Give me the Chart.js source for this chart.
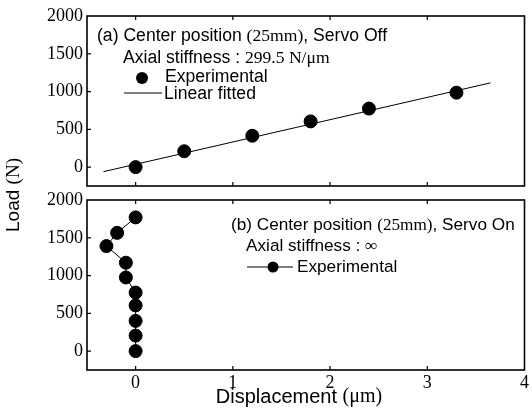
<!DOCTYPE html>
<html><head><meta charset="utf-8">
<script src="https://cdn.jsdelivr.net/npm/chart.js@4/dist/chart.umd.min.js"></script>
<style>
html,body{margin:0;padding:0;background:#fff}
#wrap{position:relative;width:532px;height:415px;overflow:hidden}
canvas{position:absolute;left:0;top:0}
</style></head>
<body><div id="wrap"><canvas id="c1" width="532" height="415"></canvas><canvas id="c2" width="532" height="415"></canvas></div>
<script>
// ---- data ----
const xTicks = [0, 1, 2, 3, 4];
const yTicks = [0, 500, 1000, 1500, 2000];
const offDisp = [0, 0.5, 1.2, 1.8, 2.4, 3.3];
const offLoad = [0, 210, 415, 605, 775, 985];
const fitDisp = [-0.33, 3.65];
const fitLoad = [-60, 1115];
const onDisp = [0, 0, 0, 0, 0, -0.1, -0.1, -0.3, -0.19, 0];
const onLoad = [0, 205, 400, 605, 775, 975, 1170, 1390, 1565, 1770];

const SANS = '"Liberation Sans", Arial, sans-serif';
const SERIF = '"Liberation Serif", "Times New Roman", serif';

function pts(xs, ys){ return xs.map((x,i)=>({x:x, y:ys[i]})); }

function drawRuns(ctx, x, y, runs){
  ctx.save();
  ctx.textBaseline = 'middle';
  ctx.textAlign = 'left';
  ctx.fillStyle = '#000';
  for (const [t, f] of runs){ ctx.font = f; ctx.fillText(t, x, y); x += ctx.measureText(t).width; }
  ctx.restore();
  return x;
}
function runsWidth(ctx, runs){
  let w = 0; ctx.save();
  for (const [t,f] of runs){ ctx.font = f; w += ctx.measureText(t).width; }
  ctx.restore(); return w;
}

const framePlugin = {
  id: 'frame',
  afterDraw(chart, args, opts){
    const ctx = chart.ctx, a = chart.chartArea;
    const xs = chart.scales.x, ys = chart.scales.y;
    ctx.save();
    ctx.strokeStyle = '#000';
    ctx.lineWidth = 1.6;
    ctx.strokeRect(a.left, a.top, a.right - a.left, a.bottom - a.top);
    ctx.lineWidth = 1.2;
    ctx.beginPath();
    xTicks.forEach(v=>{
      const px = xs.getPixelForValue(v);
      if (px > a.left + 2 && px < a.right - 2){
        ctx.moveTo(px, a.bottom); ctx.lineTo(px, a.bottom - 4);
        ctx.moveTo(px, a.top); ctx.lineTo(px, a.top + 4);
      }
    });
    yTicks.forEach(v=>{
      const py = ys.getPixelForValue(v);
      if (py > a.top + 2 && py < a.bottom - 2){
        ctx.moveTo(a.left, py); ctx.lineTo(a.left + 4, py);
      }
    });
    ctx.stroke();
    ctx.restore();
    if (opts.draw) opts.draw(ctx, chart);
  }
};

function baseScales(showX, xHeight){
  return {
    x: {
      type: 'linear', min: -0.5, max: 4,
      afterBuildTicks: s => { s.ticks = xTicks.map(v=>({value:v})); },
      afterFit: s => { s.height = xHeight; },
      grid: { display: false, drawTicks: false },
      border: { display: false },
      ticks: { display: showX, color: '#000', padding: 2, font: { family: SERIF, size: 18 }, callback: v => String(v) }
    },
    y: {
      type: 'linear', min: -250, max: 2000,
      afterBuildTicks: s => { s.ticks = yTicks.map(v=>({value:v})); },
      afterFit: s => { s.width = 87; },
      grid: { display: false, drawTicks: false },
      border: { display: false },
      ticks: { color: '#000', padding: 4, font: { family: SERIF, size: 18 }, callback: v => String(v) }
    }
  };
}

const common = {
  responsive: false, animation: false,
  plugins: { legend: { display: false }, tooltip: { enabled: false } }
};

new Chart(document.getElementById('c1'), {
  type: 'scatter',
  data: { datasets: [
    { label: 'Experimental', data: pts(offDisp, offLoad), pointRadius: 6.5, pointBackgroundColor: '#000', pointBorderColor: '#000', showLine: false },
    { label: 'Linear fitted', type: 'line', data: pts(fitDisp, fitLoad), borderColor: '#000', borderWidth: 1, pointRadius: 0, showLine: true, fill: false }
  ]},
  options: Object.assign({}, common, {
    layout: { padding: { top: 16, right: 3, left: 0, bottom: 0 } },
    scales: baseScales(false, 229),
    plugins: Object.assign({}, common.plugins, { frame: { draw(ctx){
      const f = '17.6px ' + SANS, s = '17.6px ' + SERIF;
      drawRuns(ctx, 97, 36, [['(a) Center position ', f], ['(25mm)', s], [', Servo Off', f]]);
      drawRuns(ctx, 123, 58, [['Axial stiffness : ', f], ['299.5 N/\u03bcm', s]]);
      ctx.save(); ctx.fillStyle = '#000'; ctx.beginPath(); ctx.arc(142, 78, 6, 0, Math.PI*2); ctx.fill();
      ctx.strokeStyle = '#000'; ctx.lineWidth = 1; ctx.beginPath(); ctx.moveTo(124, 93); ctx.lineTo(162, 93); ctx.stroke(); ctx.restore();
      drawRuns(ctx, 165, 77, [['Experimental', f]]);
      drawRuns(ctx, 164, 94, [['Linear fitted', f]]);
    } } })
  }),
  plugins: [framePlugin]
});

new Chart(document.getElementById('c2'), {
  type: 'scatter',
  data: { datasets: [
    { label: 'Experimental', data: pts(onDisp, onLoad), pointRadius: 6.5, pointBackgroundColor: '#000', pointBorderColor: '#000', borderColor: '#000', borderWidth: 1, showLine: true }
  ]},
  options: Object.assign({}, common, {
    layout: { padding: { top: 200, right: 3, left: 0, bottom: 0 } },
    scales: baseScales(true, 45),
    plugins: Object.assign({}, common.plugins, { frame: { draw(ctx, chart){
      const f = '17.2px ' + SANS, s = '17.2px ' + SERIF;
      drawRuns(ctx, 231, 225, [['(b) Center position ', f], ['(25mm)', s], [', Servo On', f]]);
      drawRuns(ctx, 246, 246, [['Axial stiffness : ', f], ['\u221e', s]]);
      ctx.save(); ctx.strokeStyle = '#000'; ctx.fillStyle = '#000'; ctx.lineWidth = 1;
      ctx.beginPath(); ctx.moveTo(247, 267); ctx.lineTo(293, 267); ctx.stroke();
      ctx.beginPath(); ctx.arc(273, 267, 5.5, 0, Math.PI*2); ctx.fill(); ctx.restore();
      drawRuns(ctx, 297, 267, [['Experimental', f]]);
      // x title
      const xr = [['Displacement ', '20px ' + SANS], ['(\u03bcm)', '20px ' + SERIF]];
      const w = runsWidth(ctx, xr);
      drawRuns(ctx, 299 - w/2, 397, xr);
      // y title
      const yr = [['Load ', '19px ' + SANS], ['(N)', '19px ' + SERIF]];
      const wy = runsWidth(ctx, yr);
      ctx.save(); ctx.translate(14, 195); ctx.rotate(-Math.PI/2);
      drawRuns(ctx, -wy/2, 0, yr); ctx.restore();
    } } })
  }),
  plugins: [framePlugin]
});
</script></body></html>
